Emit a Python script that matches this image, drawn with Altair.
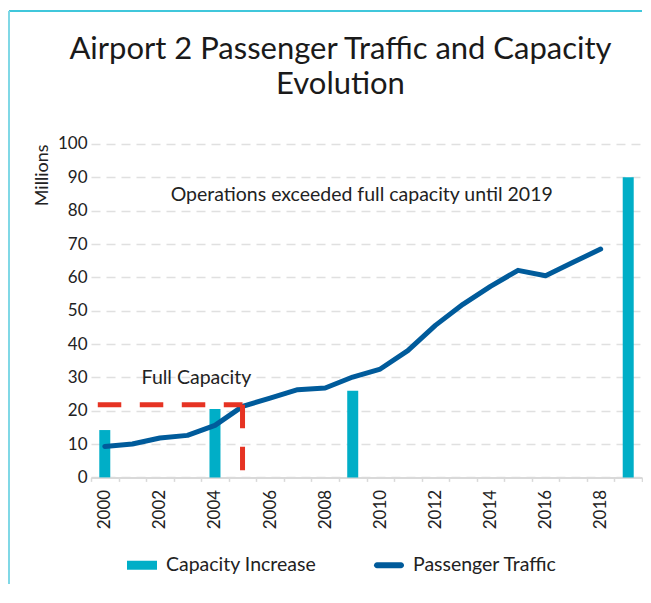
import altair as alt
import pandas as pd

# ---- data ----
all_years = list(range(2000, 2020))
traffic_years = list(range(2000, 2019))
traffic = [9.3, 10.0, 11.8, 12.6, 15.6, 21.3, 23.8, 26.3, 26.8, 30.1,
           32.5, 38.0, 45.6, 51.9, 57.3, 62.1, 60.5, 64.5, 68.5]
cap_years = [2000, 2004, 2009, 2019]
cap_increase = [14.2, 20.5, 26.0, 90.0]
full_capacity_value = 21.8
full_capacity_start = 2000
full_capacity_end = 2005
series_names = ["Capacity Increase", "Passenger Traffic"]
ann_text = ["Operations exceeded full capacity until 2019", "Full Capacity"]
ann_year = [2009, 2003]
ann_value = [84.6, 29.9]
y_ticks = list(range(0, 101, 10))

CYAN = "#00aec7"
NAVY = "#005b9b"
RED = "#e63323"
FONT = "Lato"
TXT = "#222222"

df_line = pd.DataFrame({"year": traffic_years, "traffic": traffic})
df_bar = pd.DataFrame({"year": cap_years, "cap": cap_increase})
df_h = pd.DataFrame({"x1": [full_capacity_start], "x2": [full_capacity_end],
                     "v": [full_capacity_value]})
df_v = pd.DataFrame({"x": [full_capacity_end], "v": [full_capacity_value], "z": [0]})
df_ann = pd.DataFrame({"text": ann_text, "year": ann_year, "v": ann_value})
df_leg = pd.DataFrame({"series": series_names, "y": [None, None]})
df_one = pd.DataFrame({"a": [1]})

xscale = alt.Scale(domain=all_years, paddingInner=0, paddingOuter=0)
yscale = alt.Scale(domain=[0, 100], nice=False)

xaxis = alt.Axis(title=None, tickBand="extent", labelAngle=-90, labelFontSize=17,
                 labelFont=FONT, labelColor=TXT, labelPadding=8, labelOverlap=False,
                 labelExpr="datum.value % 2 == 0 ? datum.value : ''",
                 domainColor="#d9d9d9", domainWidth=2, tickColor="#d9d9d9",
                 tickSize=4, tickWidth=1.5, grid=False)
yaxis = alt.Axis(title="Millions", values=y_ticks, labelFontSize=17, labelOverlap=False,
                 labelFont=FONT, labelColor=TXT, labelPadding=4, domain=False,
                 ticks=False, grid=True, gridColor="#e0e0e0", gridDash=[9, 6],
                 gridWidth=1.5, titleFont=FONT, titleFontSize=18, titleFontWeight="normal",
                 titleColor=TXT, titleAngle=-90, titleAlign="right", titleBaseline="bottom",
                 titleX=-40, titleY=0)

X = lambda f: alt.X(f, scale=xscale, axis=xaxis)
Y = lambda f: alt.Y(f, scale=yscale, axis=yaxis)

bars = alt.Chart(df_bar).mark_bar(width=11, color=CYAN).encode(
    x=X("year:O"), y=Y("cap:Q"))

line = alt.Chart(df_line).mark_line(color=NAVY, strokeWidth=5, strokeCap="round",
                                    strokeJoin="round").encode(
    x=X("year:O"), y=Y("traffic:Q"))

hrule = alt.Chart(df_h).mark_rule(color=RED, strokeWidth=5, strokeDash=[23.5, 18.5],
                                  xOffset=-7).encode(
    x=X("x1:O"), x2="x2:O", y=Y("v:Q"))
vrule = alt.Chart(df_v).mark_rule(color=RED, strokeWidth=5, strokeDash=[23.5, 18.5]).encode(
    x=X("x:O"), y=Y("v:Q"), y2="z:Q")

ann = alt.Chart(df_ann).mark_text(font=FONT, fontSize=19.5, color=TXT, dx=9,
                                  baseline="middle").encode(
    x=X("year:O"), y=Y("v:Q"), text="text:N")

rect_path = "M-1,-0.3H1V0.3H-1Z"
line_path = "M-0.8,-0.2H0.8A0.2,0.2 0 0 1 0.8,0.2H-0.8A0.2,0.2 0 0 1 -0.8,-0.2Z"
leg_props = dict(title=None, orient="none", direction="horizontal",
                 legendX=35, legendY=405, labelFont=FONT, labelFontSize=19.5,
                 labelColor=TXT, symbolSize=900, labelOffset=8, columnPadding=54,
                 symbolOpacity=1)
legend_pts = alt.Chart(df_leg).mark_point(filled=True, size=900, opacity=1).encode(
    x=alt.value(0),
    y=Y("y:Q"),
    color=alt.Color("series:N", scale=alt.Scale(domain=series_names, range=[CYAN, NAVY]),
                    legend=alt.Legend(**leg_props)),
    shape=alt.Shape("series:N", scale=alt.Scale(domain=series_names,
                                                range=[rect_path, line_path]),
                    legend=alt.Legend(**leg_props)),
)

border_top = alt.Chart(df_one).mark_rule(color="#00b5cf", strokeWidth=1.5).encode(
    x=alt.value(-82), x2=alt.value(551), y=alt.value(-133))
border_left = alt.Chart(df_one).mark_rule(color="#80d8e6", strokeWidth=2).encode(
    x=alt.value(-82), y=alt.value(-133), y2=alt.value(440))

chart = alt.layer(bars, line, hrule, vrule, ann, legend_pts, border_top, border_left).properties(
    width=551, height=333.4,
    padding={"left": 0, "top": 2, "right": 0, "bottom": 0},
    title=alt.TitleParams(text=["Airport 2 Passenger Traffic and Capacity", "Evolution"],
                          font=FONT, fontSize=31, fontWeight="normal", color="#1a1a1a",
                          anchor="middle", frame="group", dx=-26, offset=36, dy=127,
                          lineHeight=35),
).configure_view(stroke=None)

chart.save("out.html", embed_options={"renderer": "svg", "actions": False})
